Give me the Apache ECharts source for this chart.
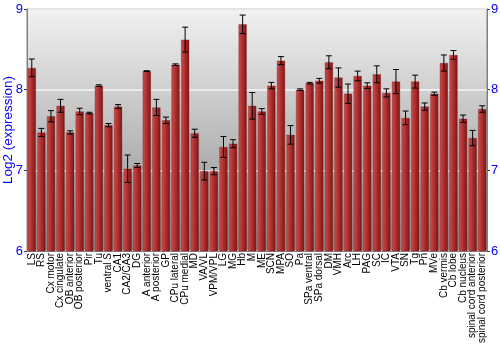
<!DOCTYPE html>
<html>
<head>
<meta charset="utf-8">
<script src="https://cdn.jsdelivr.net/npm/echarts@6/dist/echarts.min.js"></script>
<style>
  html, body { margin: 0; padding: 0; background: #fff; }
  #chart { width: 500px; height: 350px; }
</style>
</head>
<body>
<div id="chart"></div>
<script>
const regions = ['LS', 'RS', 'Cx motor', 'Cx cingulate', 'OB anterior', 'OB posterior', 'Pir', 'Tu',
  'ventral S', 'CA1', 'CA2/CA3', 'DG', 'A anterior', 'A posterior', 'GP', 'CPu lateral', 'CPu medial',
  'MD', 'VA/VL', 'VPM/VPL', 'LG', 'MG', 'Hb', 'M', 'ME', 'SCN', 'MPA', 'SO', 'Pa', 'SPa ventral',
  'SPa dorsal', 'DM', 'VMH', 'Arc', 'LH', 'PAG', 'SC', 'IC', 'VTA', 'SN', 'Tg', 'Pn', 'MVe',
  'Cb vermis', 'Cb lobe', 'Cb nucleus', 'spinal cord anterior', 'spinal cord posterior']

const expression = [8.27, 7.47, 7.67, 7.80, 7.47, 7.73, 7.71, 8.05,
  7.56, 7.79, 7.02, 7.06, 8.23, 7.78, 7.62, 8.31, 8.62,
  7.46, 6.99, 6.99, 7.29, 7.33, 8.81, 7.80, 7.73, 8.05, 8.36, 7.44, 8.00, 8.08,
  8.11, 8.34, 8.15, 7.95, 8.17, 8.05, 8.19, 7.96, 8.10, 7.65, 8.10, 7.79, 7.95,
  8.33, 8.43, 7.64, 7.40, 7.76]

const stdErr = [0.11, 0.05, 0.07, 0.08, 0.02, 0.04, 0.01, 0.01,
  0.02, 0.025, 0.17, 0.025, 0.005, 0.10, 0.04, 0.01, 0.155,
  0.05, 0.11, 0.045, 0.13, 0.05, 0.115, 0.165, 0.035, 0.04, 0.05, 0.115, 0.01, 0.01,
  0.03, 0.08, 0.12, 0.12, 0.06, 0.035, 0.105, 0.05, 0.15, 0.085, 0.08, 0.045, 0.02,
  0.10, 0.055, 0.045, 0.095, 0.04]

const yTicks = [6, 7, 8, 9]

const myChart = echarts.init(document.getElementById('chart'))

const barColor = new echarts.graphic.LinearGradient(0, 0, 1, 0, [
  { offset: 0, color: '#c65050' },
  { offset: 0.35, color: '#b83636' },
  { offset: 1, color: '#7e1414' }
])

const option = {
  animation: false,
  grid: {
    left: 27,
    right: 13,
    top: 9,
    bottom: 99,
    outerBoundsMode: 'none',
    containLabel: false,
    show: true,
    borderColor: '#808080',
    borderWidth: 1,
    backgroundColor: new echarts.graphic.LinearGradient(0, 0, 0, 1, [
      { offset: 0, color: '#f2f2f2' },
      { offset: 1, color: '#8a8a8a' }
    ])
  },
  xAxis: {
    type: 'category',
    data: regions,
    axisTick: { show: false },
    axisLine: { lineStyle: { color: '#808080' } },
    axisLabel: {
      rotate: 90,
      interval: 0,
      color: '#000',
      fontFamily: 'Liberation Sans',
      fontSize: 10,
      margin: 2
    }
  },
  yAxis: [
    {
      type: 'value',
      min: yTicks[0],
      max: yTicks[yTicks.length - 1],
      interval: 1,
      name: 'Log2 (expression)',
      nameLocation: 'middle',
      nameGap: 12,
      nameMoveOverlap: false,
      nameTextStyle: { color: '#0000ff', fontFamily: 'Liberation Sans', fontSize: 13.5 },
      axisLine: { show: true, lineStyle: { color: '#808080' } },
      axisTick: { show: true, length: 3, lineStyle: { color: '#404040' } },
      axisLabel: { color: '#0000ff', fontFamily: 'Liberation Sans', fontSize: 13, margin: 4 },
      splitLine: { show: true, lineStyle: { color: 'rgba(255,255,255,0.8)', width: 1.5 } }
    },
    {
      type: 'value',
      min: yTicks[0],
      max: yTicks[yTicks.length - 1],
      interval: 1,
      position: 'right',
      axisLine: { show: true, lineStyle: { color: '#808080' } },
      axisTick: { show: true, length: 3, lineStyle: { color: '#404040' } },
      axisLabel: { color: '#0000ff', fontFamily: 'Liberation Sans', fontSize: 13, margin: 4 },
      splitLine: { show: false }
    }
  ],
  series: [
    {
      type: 'bar',
      data: expression,
      barCategoryGap: '14%',
      itemStyle: {
        color: barColor,
        borderColor: 'rgba(120,20,20,0.6)',
        borderWidth: 0.5
      }
    },
    {
      type: 'custom',
      data: expression.map((v, i) => [i, v - stdErr[i], v + stdErr[i]]),
      renderItem: function (params, api) {
        const i = api.value(0)
        const lo = api.coord([i, api.value(1)])
        const hi = api.coord([i, api.value(2)])
        const w = 3
        const style = { stroke: '#000', lineWidth: 1 }
        return {
          type: 'group',
          children: [
            { type: 'line', shape: { x1: lo[0], y1: lo[1], x2: hi[0], y2: hi[1] }, style: style },
            { type: 'line', shape: { x1: lo[0] - w, y1: lo[1], x2: lo[0] + w, y2: lo[1] }, style: style },
            { type: 'line', shape: { x1: hi[0] - w, y1: hi[1], x2: hi[0] + w, y2: hi[1] }, style: style }
          ]
        }
      },
      z: 10
    }
  ]
}

myChart.setOption(option)
</script>
</body>
</html>
